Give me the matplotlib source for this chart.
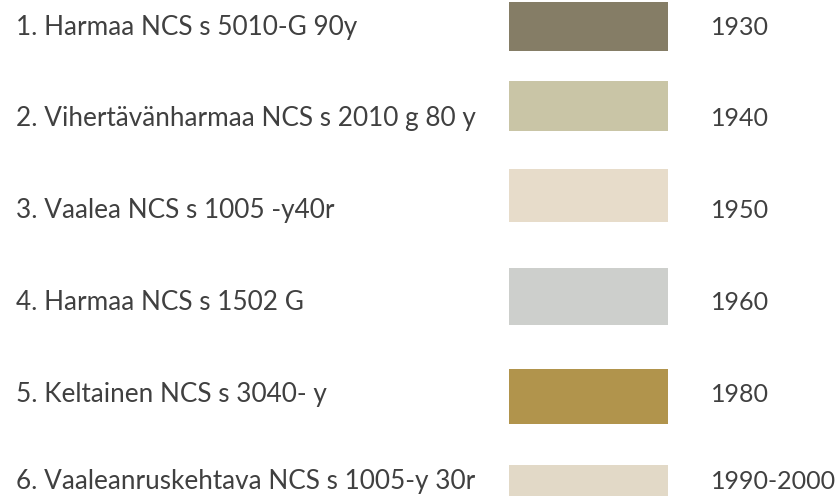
import matplotlib
matplotlib.use("Agg")
import matplotlib.pyplot as plt

labels = [
    "1. Harmaa NCS s 5010-G 90y",
    "2. Vihertävänharmaa NCS s 2010 g 80 y",
    "3. Vaalea NCS s 1005 -y40r",
    "4. Harmaa NCS s 1502 G",
    "5. Keltainen NCS s 3040- y",
    "6. Vaaleanruskehtava NCS s 1005-y 30r",
]
years = ["1930", "1940", "1950", "1960", "1980", "1990-2000"]
swatch_colors = ["#857d66", "#c9c5a6", "#e7dcca", "#cdcfcc", "#b1944c", "#e2d9c7"]

# layout in pixels (figure is 840x496)
text_baseline = [35, 126, 218, 310, 402, 489]
swatch_top = [2, 81, 169, 268, 369, 465]
swatch_bottom = [51, 131, 222, 325, 424, 500]
swatch_left, swatch_right = 509, 668
label_x, year_x = 16, 711
text_color = "#404040"

fig = plt.figure(figsize=(8.4, 4.96), dpi=100)
ax = fig.add_axes([0, 0, 1, 1])
ax.set_xlim(0, 840)
ax.set_ylim(496, 0)
ax.axis("off")

centers = [(t + b) / 2 for t, b in zip(swatch_top, swatch_bottom)]
heights = [b - t for t, b in zip(swatch_top, swatch_bottom)]
ax.barh(centers, swatch_right - swatch_left, height=heights, left=swatch_left,
        color=swatch_colors, linewidth=0)

for lab, yr, y in zip(labels, years, text_baseline):
    ax.text(label_x, y, lab, fontsize=18.8, family="Lato", color=text_color,
            va="baseline", ha="left")
    ax.text(year_x, y, yr, fontsize=18, family="Lato", color=text_color,
            va="baseline", ha="left")

fig.savefig("out.png", dpi=100, facecolor="white")
